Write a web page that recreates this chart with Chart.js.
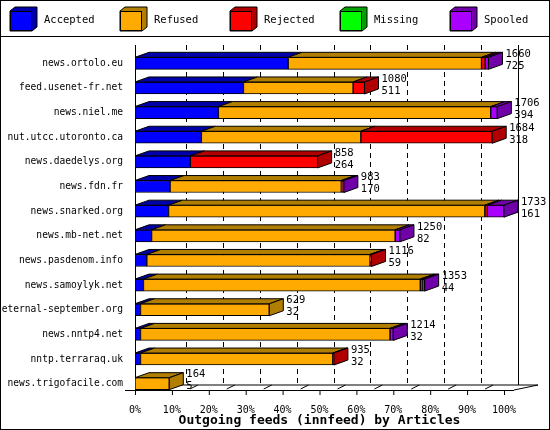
<!DOCTYPE html>
<html>
<head>
<meta charset="utf-8">
<script src="https://cdn.jsdelivr.net/npm/chart.js@4"></script>
<style>
  body { margin: 0; background: #fff; }
  #wrap { width: 550px; height: 430px; }
</style>
</head>
<body>
<div id="wrap"><canvas id="myChart" width="550" height="430"></canvas></div>
<script>
// feeds, top to bottom
const feeds = [
  'news.ortolo.eu', 'feed.usenet-fr.net', 'news.niel.me', 'nut.utcc.utoronto.ca',
  'news.daedelys.org', 'news.fdn.fr', 'news.snarked.org', 'news.mb-net.net',
  'news.pasdenom.info', 'news.samoylyk.net', 'eternal-september.org', 'news.nntp4.net',
  'nntp.terraraq.uk', 'news.trigofacile.com'
];
// percentages
const accepted = [41.5, 29.4, 22.6, 18.0, 15.0, 9.5, 9.1, 4.5, 3.2, 2.3, 1.5, 1.5, 1.5, 0];
const refused  = [52.4, 29.7, 73.8, 43.2, 0, 46.4, 85.7, 66.0, 60.5, 75.0, 34.9, 67.6, 52.1, 9.3];
const rejected = [1.0, 3.1, 0, 35.6, 34.5, 0.4, 0.7, 0, 0.4, 0.6, 0, 0, 0.3, 0];
const missing  = [0, 0, 0, 0, 0, 0, 0, 0, 0, 0, 0, 0, 0, 0];
const spooled  = [0.9, 0, 1.8, 0, 0, 0.3, 4.5, 1.3, 0, 0.6, 0, 0.9, 0, 0];
// numbers printed at the right of each bar
const totals   = [1660, 1080, 1706, 1684, 858, 983, 1733, 1250, 1116, 1353, 629, 1214, 935, 164];
const counts   = [725, 511, 394, 318, 264, 170, 161, 82, 59, 44, 32, 32, 32, 5];
const xTicks = [0, 10, 20, 30, 40, 50, 60, 70, 80, 90, 100];

const names  = ['Accepted', 'Refused', 'Rejected', 'Missing', 'Spooled'];
const front  = ['#0000ff', '#ffaa00', '#ff0000', '#00ff00', '#aa00ff'];
const shade  = ['#0000a8', '#b07e00', '#b00000', '#00a000', '#7000a8'];
const DX = 14, DY = 5;
const FONT = '10.5px "DejaVu Sans Mono", monospace';

const threeD = {
  id: 'threeD',
  beforeDatasetsDraw(chart) {
    const ctx = chart.ctx, xs = chart.scales.x, a = chart.chartArea;
    const yb = a.bottom - 6;
    ctx.save();
    ctx.strokeStyle = '#000'; ctx.lineWidth = 1;
    // back grid
    ctx.setLineDash([5, 4]);
    xTicks.forEach(t => {
      if (t === 0) return;
      const x = Math.round(xs.getPixelForValue(t) + DX) + 0.5;
      ctx.beginPath(); ctx.moveTo(x, a.top - 6); ctx.lineTo(x, yb - DY); ctx.stroke();
    });
    ctx.setLineDash([]);
    // floor + walls
    const x0 = xs.getPixelForValue(0), x1 = xs.getPixelForValue(100);
    ctx.beginPath();
    ctx.moveTo(x0 + 0.5, a.top - 6); ctx.lineTo(x0 + 0.5, yb);
    ctx.moveTo(x0 - 10, yb + 0.5); ctx.lineTo(x1 + 10, yb + 0.5);
    ctx.moveTo(x0 + DX + 0.5, yb - DY); ctx.lineTo(x1 + DX + 20, yb - DY);
    ctx.moveTo(x1 + DX + 0.5, a.top - 6); ctx.lineTo(x1 + DX + 0.5, yb - DY);
    ctx.moveTo(x1 + 10, yb); ctx.lineTo(x1 + DX + 20, yb - DY);
    ctx.stroke();
    xTicks.forEach(t => {
      const x = xs.getPixelForValue(t);
      ctx.beginPath(); ctx.moveTo(x + 0.5, yb); ctx.lineTo(x + 0.5, yb + 5); ctx.stroke();
      if (t < 100) {
        ctx.beginPath(); ctx.moveTo(x + 18, yb - 1); ctx.lineTo(x + 26, yb - DY); ctx.stroke();
      }
    });
    ctx.restore();
  },
  afterDatasetsDraw(chart) {
    const ctx = chart.ctx;
    ctx.save();
    ctx.strokeStyle = '#000'; ctx.lineWidth = 1;
    feeds.forEach((f, i) => {
      let last = null;
      chart.data.datasets.forEach((ds, d) => {
        const el = chart.getDatasetMeta(d).data[i];
        if (!ds.data[i]) return;
        const top = el.y - el.height / 2;
        ctx.fillStyle = shade[d];
        ctx.beginPath();
        ctx.moveTo(el.base, top); ctx.lineTo(el.x, top);
        ctx.lineTo(el.x + DX, top - DY); ctx.lineTo(el.base + DX, top - DY);
        ctx.closePath(); ctx.fill(); ctx.stroke();
        last = { el, d, top };
      });
      if (!last) return;
      const { el, d, top } = last, bot = top + el.height;
      ctx.fillStyle = shade[d];
      ctx.beginPath();
      ctx.moveTo(el.x, top); ctx.lineTo(el.x + DX, top - DY);
      ctx.lineTo(el.x + DX, bot - DY); ctx.lineTo(el.x, bot);
      ctx.closePath(); ctx.fill(); ctx.stroke();
      ctx.fillStyle = '#000'; ctx.font = FONT; ctx.textBaseline = 'middle';
      ctx.fillText(String(totals[i]), el.x + DX + 3, el.y - 9);
      ctx.fillText(String(counts[i]), el.x + DX + 3, el.y + 3);
    });
    ctx.restore();
  },
  afterDraw(chart) {
    const ctx = chart.ctx;
    ctx.save();
    ctx.strokeStyle = '#000'; ctx.lineWidth = 1;
    ctx.strokeRect(0.5, 0.5, 549, 429);
    ctx.beginPath(); ctx.moveTo(0, 36.5); ctx.lineTo(550, 36.5); ctx.stroke();
    ctx.font = FONT; ctx.textBaseline = 'middle';
    names.forEach((n, k) => {
      const x = 10 + k * 110, y = 11;
      ctx.fillStyle = shade[k];
      ctx.beginPath();
      ctx.moveTo(x, y); ctx.lineTo(x + 5, y - 4); ctx.lineTo(x + 27, y - 4);
      ctx.lineTo(x + 27, y + 16); ctx.lineTo(x + 22, y + 20); ctx.lineTo(x, y + 20);
      ctx.closePath(); ctx.fill(); ctx.stroke();
      ctx.fillStyle = front[k];
      ctx.fillRect(x, y, 22, 20); ctx.strokeRect(x + 0.5, y + 0.5, 21, 19);
      ctx.fillStyle = '#000';
      ctx.fillText(n, x + 34, y + 9);
    });
    ctx.restore();
  }
};

const series = [accepted, refused, rejected, missing, spooled];
const data = {
  labels: feeds,
  datasets: series.map((s, k) => ({
    label: names[k], data: s, backgroundColor: front[k],
    borderColor: '#000', borderWidth: 1, borderSkipped: false,
    barThickness: 12
  }))
};

const config = {
  type: 'bar',
  data: data,
  plugins: [threeD],
  options: {
    indexAxis: 'y',
    responsive: false,
    animation: false,
    layout: { padding: { top: 51, right: 46, bottom: 2, left: 0 } },
    plugins: { legend: { display: false }, tooltip: { enabled: false } },
    scales: {
      x: {
        stacked: true, min: 0, max: 100,
        grid: { display: false }, border: { display: false },
        ticks: { stepSize: 10, color: '#000', font: { family: 'DejaVu Sans Mono', size: 10 },
                 callback: v => v + '%', maxRotation: 0, padding: 0 },
        title: { display: true, text: 'Outgoing feeds (innfeed) by Articles', color: '#000',
                 font: { family: 'DejaVu Sans Mono', size: 13, weight: 'bold' }, padding: 0 },
        afterFit: s => { s.height = 32; }
      },
      y: {
        stacked: true,
        grid: { display: false }, border: { display: false },
        ticks: { color: '#000', font: { family: 'DejaVu Sans Mono', size: 9.6 }, padding: 4 },
        afterFit: s => { s.width = 135; }
      }
    }
  }
};

new Chart(document.getElementById('myChart'), config);
</script>
</body>
</html>
